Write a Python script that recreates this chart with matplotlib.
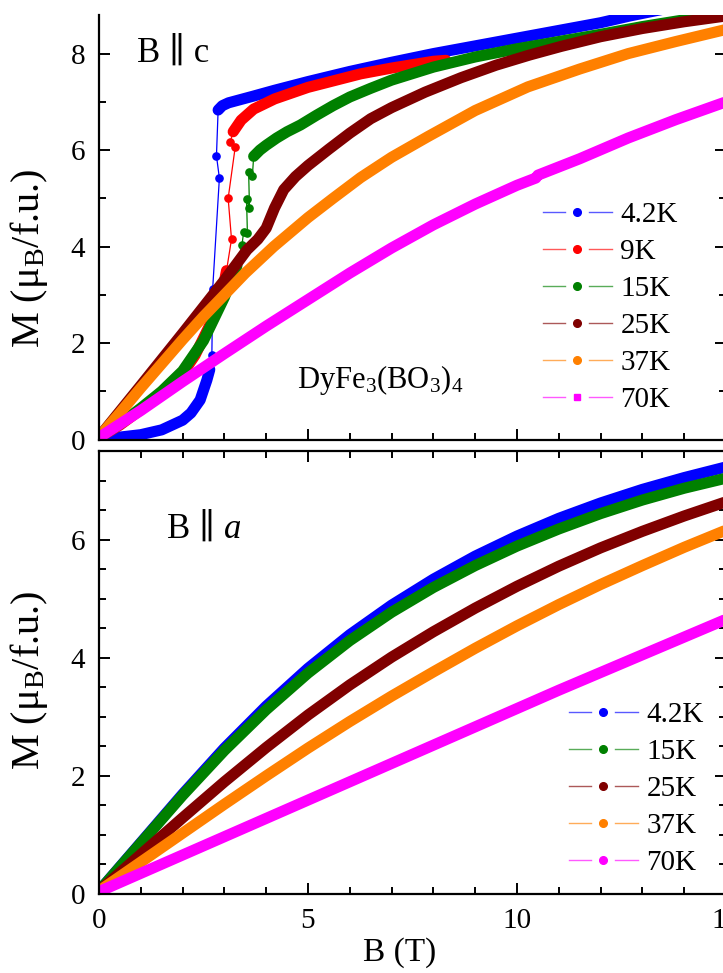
import matplotlib
matplotlib.use("Agg")
import matplotlib.pyplot as plt
from matplotlib.lines import Line2D
from matplotlib.legend_handler import HandlerBase
from matplotlib.ticker import MultipleLocator

plt.rcParams['font.family'] = ['Liberation Serif', 'DejaVu Serif']
plt.rcParams['mathtext.fontset'] = 'custom'
plt.rcParams['mathtext.rm'] = 'Liberation Serif'
plt.rcParams['mathtext.it'] = 'Liberation Serif:italic'

# ---------------- B || c : magnetization M (mu_B / f.u.) vs field B (T) ----------------
temps_c = ['4.2K', '9K', '15K', '25K', '37K', '70K']
colors_c = ['#0000ff', '#ff0000', '#008000', '#800000', '#ff8000', '#ff00ff']

# 4.2 K: below jump / points across the jump / above jump
c42_low_B = [0.0, 0.5, 1.0, 1.5, 2.0, 2.2, 2.42, 2.58, 2.65]
c42_low_M = [0.04, 0.05, 0.10, 0.20, 0.40, 0.55, 0.82, 1.23, 1.45]
c42_jump_B = [2.70, 2.72, 2.88, 2.81]
c42_jump_M = [1.75, 3.13, 5.42, 5.88]
c42_high_B = [2.85, 2.95, 3.1, 3.4, 3.7, 4.2, 5.0, 6.0, 7.0, 8.0, 9.0, 10.0, 11.0, 12.0, 12.7, 13.5]
c42_high_M = [6.83, 6.92, 6.98, 7.05, 7.12, 7.24, 7.42, 7.63, 7.82, 8.00, 8.16, 8.32, 8.48, 8.64, 8.78, 8.92]

# 9 K
c9_low_B = [0.0, 0.5, 1.0, 1.5, 1.94, 2.3, 2.74, 2.95, 3.05]
c9_low_M = [0.04, 0.30, 0.62, 0.95, 1.29, 1.75, 2.53, 3.05, 3.50]
c9_jump_B = [3.17, 3.09, 3.26, 3.14]
c9_jump_M = [4.15, 5.00, 6.07, 6.17]
c9_high_B = [3.21, 3.4, 3.7, 4.2, 5.0, 6.26, 7.0, 8.0, 8.3]
c9_high_M = [6.38, 6.62, 6.85, 7.06, 7.30, 7.58, 7.70, 7.84, 7.86]

# 15 K
c15_low_B = [0.0, 0.5, 1.0, 1.5, 2.0, 2.5, 3.0, 3.3]
c15_low_M = [0.04, 0.32, 0.65, 1.00, 1.42, 2.05, 2.95, 3.60]
c15_jump_B = [3.42, 3.46, 3.55, 3.53, 3.60, 3.58, 3.67]
c15_jump_M = [4.03, 4.30, 4.28, 4.98, 4.80, 5.55, 5.47]
c15_high_B = [3.7, 3.85, 4.0, 4.25, 4.5, 4.82, 5.2, 5.6, 6.0, 6.5, 7.0, 8.0, 9.0, 10.0,
              11.0, 12.0, 13.0, 14.0, 15.0]
c15_high_M = [5.87, 6.00, 6.10, 6.25, 6.38, 6.52, 6.72, 6.92, 7.10, 7.28, 7.45, 7.72, 7.93, 8.10,
              8.25, 8.40, 8.56, 8.70, 8.82]

# 25 K
c25_B = [0.0, 1.0, 2.0, 3.0, 3.3, 3.54, 3.8, 4.0, 4.2, 4.42, 4.7, 5.0, 5.5, 6.0, 6.5, 7.0,
         7.8, 8.66, 9.5, 10.3, 11.06, 12.0, 13.0, 14.0, 15.0]
c25_M = [0.05, 1.12, 2.20, 3.30, 3.65, 3.93, 4.15, 4.38, 4.80, 5.18, 5.45, 5.68, 6.02, 6.35, 6.65, 6.88,
         7.20, 7.50, 7.76, 7.97, 8.15, 8.35, 8.52, 8.66, 8.78]

# 37 K
c37_B = [0.0, 0.5, 1.0, 1.5, 2.0, 2.5, 3.0, 3.5, 4.18, 5.0, 5.6, 6.26, 7.0, 7.87,
         9.0, 10.26, 11.5, 12.66, 13.8, 15.0]
c37_M = [0.05, 0.55, 1.07, 1.57, 2.07, 2.55, 3.00, 3.45, 4.00, 4.60, 5.00, 5.43, 5.85, 6.28,
         6.82, 7.31, 7.68, 8.00, 8.25, 8.50]

# 70 K
c70_B = [0.0, 1.0, 2.0, 3.0, 4.0, 5.0, 6.0, 7.0, 8.0, 9.0, 10.0, 10.45, 10.5, 11.5, 12.66, 13.8, 15.0]
c70_M = [0.04, 0.60, 1.20, 1.78, 2.35, 2.90, 3.45, 3.97, 4.45, 4.88, 5.27, 5.42, 5.48, 5.82, 6.25, 6.63, 7.00]

# ---------------- B || a ----------------
temps_a = ['4.2K', '15K', '25K', '37K', '70K']
colors_a = ['#0000ff', '#008000', '#800000', '#ff8000', '#ff00ff']
a_B = [0, 1, 2, 3, 4, 5, 6, 7, 8, 9, 10, 11, 12, 13, 14, 15]
a42_M = [0.05, 0.87, 1.69, 2.47, 3.18, 3.82, 4.39, 4.89, 5.33, 5.72, 6.06, 6.36, 6.62, 6.85, 7.05, 7.23]
a15_M = [0.05, 0.86, 1.67, 2.43, 3.12, 3.74, 4.29, 4.77, 5.19, 5.56, 5.89, 6.18, 6.44, 6.67, 6.87, 7.04]
a25_M = [0.05, 0.67, 1.29, 1.90, 2.48, 3.03, 3.54, 4.01, 4.44, 4.84, 5.21, 5.55, 5.86, 6.14, 6.40, 6.64]
a37_M = [0.05, 0.54, 1.03, 1.52, 2.00, 2.47, 2.92, 3.35, 3.76, 4.16, 4.54, 4.90, 5.24, 5.56, 5.87, 6.16]
a70_M = [0.04, 0.35, 0.66, 0.97, 1.28, 1.59, 1.90, 2.21, 2.52, 2.83, 3.14, 3.45, 3.75, 4.05, 4.35, 4.65]

BAND_LW = 8.0
DOT_MS = 5.2
FS_TICK = 21


class SplitLineHandler(HandlerBase):
    """Legend key: thin line, gap, marker, gap, thin line."""
    def create_artists(self, legend, orig_handle, xdescent, ydescent, width, height,
                       fontsize, trans):
        y = height / 2.0 - ydescent
        x0 = -xdescent
        x1 = x0 + width
        xm = 0.5 * (x0 + x1)
        gap = 0.176 * width
        c = orig_handle.get_color()
        l1 = Line2D([x0, xm - gap], [y, y], color=c, lw=1.0, alpha=0.65)
        l2 = Line2D([xm + gap, x1], [y, y], color=c, lw=1.0, alpha=0.65)
        m = Line2D([xm], [y], marker=orig_handle.get_marker(), ms=orig_handle.get_markersize(),
                   color=c, ls='none')
        for a in (l1, l2, m):
            a.set_transform(trans)
        return [l1, l2, m]


def band(ax, x, y, color):
    ax.plot(x, y, '-', color=color, lw=BAND_LW, solid_capstyle='round',
            solid_joinstyle='round')


def stepped(ax, lowB, lowM, jB, jM, hiB, hiM, color):
    band(ax, lowB, lowM, color)
    band(ax, hiB, hiM, color)
    ax.plot([lowB[-1]] + jB + [hiB[0]], [lowM[-1]] + jM + [hiM[0]], '-', color=color, lw=0.9)
    ax.plot(jB, jM, 'o', color=color, ms=DOT_MS, mec=color)


def style_axis(ax):
    for s in ax.spines.values():
        s.set_linewidth(1.6)
    ax.tick_params(which='both', direction='in', width=1.4, labelsize=FS_TICK, pad=10,
                   right=True, top=True)
    ax.tick_params(which='major', length=8)
    ax.tick_params(which='minor', length=5)
    ax.xaxis.set_major_locator(MultipleLocator(5))
    ax.xaxis.set_minor_locator(MultipleLocator(1))
    ax.set_xlim(0, 15)


W, H = 723, 973
fig = plt.figure(figsize=(W / 100, H / 100), dpi=100)

L = 99 / W
AW = 627 / W
ax1 = fig.add_axes([L, (H - 439.5) / H, AW, 424.5 / H])
ax2 = fig.add_axes([L, (H - 894) / H, AW, 443 / H])

# top panel
stepped(ax1, c42_low_B, c42_low_M, c42_jump_B, c42_jump_M, c42_high_B, c42_high_M, colors_c[0])
stepped(ax1, c9_low_B, c9_low_M, c9_jump_B, c9_jump_M, c9_high_B, c9_high_M, colors_c[1])
stepped(ax1, c15_low_B, c15_low_M, c15_jump_B, c15_jump_M, c15_high_B, c15_high_M, colors_c[2])
band(ax1, c25_B, c25_M, colors_c[3])
band(ax1, c37_B, c37_M, colors_c[4])
band(ax1, c70_B, c70_M, colors_c[5])

style_axis(ax1)
ax1.spines['top'].set_visible(False)
ax1.tick_params(which='both', top=False, labelbottom=False)
ax1.set_ylim(0, 8.8)
ax1.yaxis.set_major_locator(MultipleLocator(2))
ax1.yaxis.set_minor_locator(MultipleLocator(1))

handles_c = [Line2D([], [], color=c, marker=('s' if t == '70K' else 'o'),
                    ms=(4.6 if t == '70K' else 5.5))
             for t, c in zip(temps_c, colors_c)]
ax1.legend(handles_c, temps_c, handler_map={Line2D: SplitLineHandler()},
           loc='upper left', bbox_to_anchor=((543 - 99) / 627, (439.5 - 202) / 424.5),
           frameon=False, fontsize=FS_TICK, handlelength=2.35, handletextpad=0.3,
           labelspacing=0.36, borderpad=0, borderaxespad=0)

ax1.text((137 - 99) / 627, (439.5 - 62) / 424.5, 'B ∥ c', transform=ax1.transAxes,
         fontsize=25, ha='left', va='baseline')
ax1.text((297 - 99) / 627, (439.5 - 388) / 424.5, r'DyFe$_3$(BO$_3$)$_4$',
         transform=ax1.transAxes, fontsize=22, ha='left', va='baseline')

# bottom panel
for M, c in zip([a42_M, a15_M, a25_M, a37_M, a70_M], colors_a):
    band(ax2, a_B, M, c)

style_axis(ax2)
ax2.set_ylim(0, 7.5)
ax2.yaxis.set_major_locator(MultipleLocator(2))
ax2.yaxis.set_minor_locator(MultipleLocator(0.5))

handles_a = [Line2D([], [], color=c, marker='o', ms=5.5) for c in colors_a]
ax2.legend(handles_a, temps_a, handler_map={Line2D: SplitLineHandler()},
           loc='upper left', bbox_to_anchor=((569 - 99) / 627, (894 - 702) / 443),
           frameon=False, fontsize=FS_TICK, handlelength=2.35, handletextpad=0.3,
           labelspacing=0.36, borderpad=0, borderaxespad=0)

# "B ∥ a" with an italic a
ya = (894 - 538) / 443
t_b = ax2.text((167 - 99) / 627, ya, 'B ∥', transform=ax2.transAxes,
               fontsize=25, ha='left', va='baseline')
fig.canvas.draw()
bb = t_b.get_window_extent()
xa = ax2.transAxes.inverted().transform((bb.x1 + 9, bb.y0))[0]
ax2.text(xa, ya, 'a', transform=ax2.transAxes, fontsize=25, style='italic',
         ha='left', va='baseline')

# axis titles
ylab = 'M (μ$_\\mathrm{B}$/f.u.)'
fig.text(29 / W, 1 - 258 / H, ylab, rotation=90, ha='center', va='center', fontsize=29)
fig.text(29 / W, 1 - 680 / H, ylab, rotation=90, ha='center', va='center', fontsize=29)
fig.text(400 / W, 1 - 953 / H, 'B (T)', ha='center', va='center', fontsize=24)

fig.savefig('out.png', dpi=100)
